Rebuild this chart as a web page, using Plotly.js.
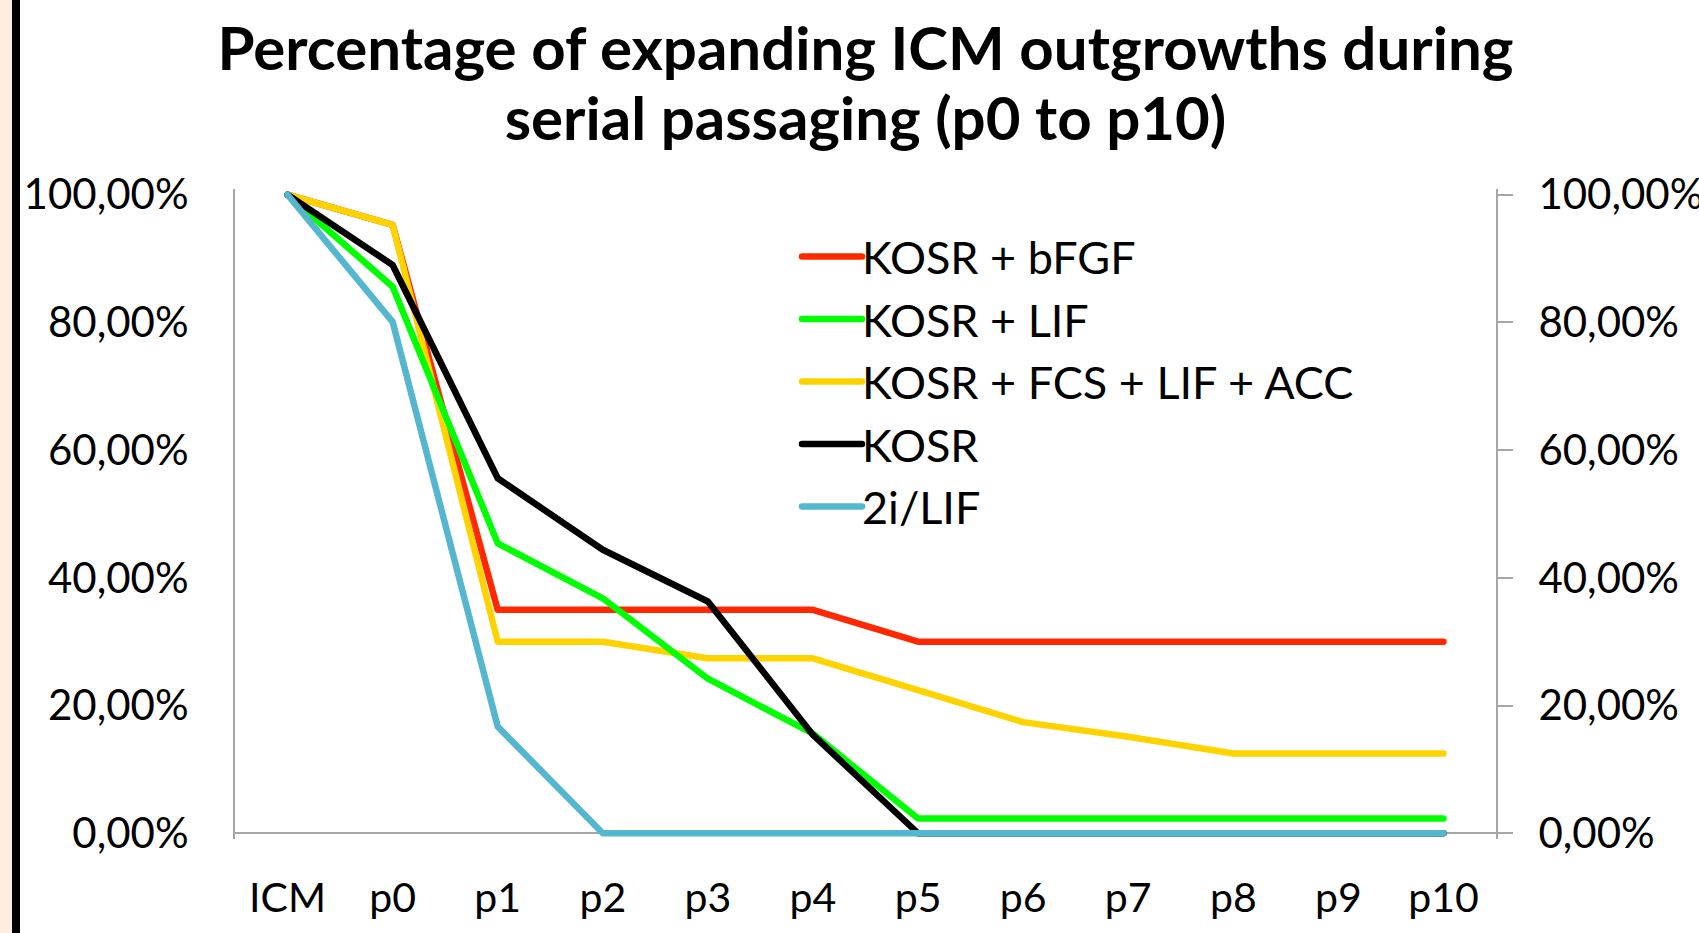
<!DOCTYPE html>
<html>
<head>
<meta charset="utf-8">
<script src="https://cdn.plot.ly/plotly-3.0.1.min.js"></script>
<style>
html, body { margin: 0; padding: 0; background: #ffffff; }
#chart { width: 1699px; height: 933px; }
.scatterlayer .js-line, .legendlines path { stroke-linejoin: round; stroke-linecap: round; }
</style>
</head>
<body>
<div id="chart"></div>
<script>
// ---- data ----
var categories = ['ICM', 'p0', 'p1', 'p2', 'p3', 'p4', 'p5', 'p6', 'p7', 'p8', 'p9', 'p10'];
var kosrBfgf   = [100, 95.3, 35.0, 35.0, 35.0, 35.0, 30.0, 30.0, 30.0, 30.0, 30.0, 30.0];
var kosrLif    = [100, 85.6, 45.4, 36.8, 24.2, 15.6, 2.3, 2.3, 2.3, 2.3, 2.3, 2.3];
var kosrFcsLifAcc = [100, 95.3, 30.0, 30.0, 27.4, 27.4, 22.4, 17.4, 15.1, 12.5, 12.5, 12.5];
var kosr       = [100, 89.0, 55.6, 44.4, 36.3, 15.4, 0, 0, 0, 0, 0, 0];
var twoiLif    = [100, 80.1, 16.7, 0, 0, 0, 0, 0, 0, 0, 0, 0];
var seriesNames = ['KOSR + bFGF', 'KOSR + LIF', 'KOSR + FCS + LIF + ACC', 'KOSR', '2i/LIF'];
var tickVals  = [0, 20, 40, 60, 80, 100];
var tickText  = ['0,00%', '20,00%', '40,00%', '60,00%', '80,00%', '100,00%'];
var titleText = 'Percentage of expanding ICM outgrowths during<br>serial passaging (p0 to p10)';

// ---- styling ----
var colors = ['#FF2800', '#00FF00', '#FFD300', '#000000', '#55B7CF'];
var FONT = 'Lato, "Open Sans", sans-serif';
var W = 1699, H = 933;
var mL = 235, mR = 1699 - 1496;
var yMin = -0.9, yMax = 100.9;
var pxPerUnit = 6.38;
var mT = 195 - (yMax - 100) * pxPerUnit;
var mB = H - (833 - yMin * pxPerUnit);
var plotW = W - mL - mR, plotH = H - mT - mB;

function mk(y, i, rank) {
  return {
    type: 'scatter', mode: 'lines', x: categories, y: y, name: seriesNames[i],
    line: {color: colors[i], width: 6.5},
    legendgroup: 'g' + i, legendrank: rank, hoverinfo: 'skip'
  };
}
// draw order: red, yellow, green, black, blue ; legend order by rank
var traces = [
  mk(kosrBfgf, 0, 1),
  mk(kosrFcsLifAcc, 2, 3),
  mk(kosrLif, 1, 2),
  mk(kosr, 3, 4),
  mk(twoiLif, 4, 5)
];
// invisible trace to drive the right axis
traces.push({type: 'scatter', mode: 'lines', x: categories, y: kosrBfgf, yaxis: 'y2',
  line: {width: 0, color: 'rgba(0,0,0,0)'}, showlegend: false, hoverinfo: 'skip'});

var px2x = function (p) { return (p - mL) / plotW; };
var px2y = function (p) { return (H - mB - p) / plotH; };

var layout = {
  width: W, height: H,
  margin: {l: mL, r: mR, t: mT, b: mB, pad: 0},
  paper_bgcolor: '#ffffff', plot_bgcolor: '#ffffff',
  font: {family: FONT, color: '#000000', size: 41},
  showlegend: true,
  title: {
    text: titleText, x: 0.5, xref: 'paper', xanchor: 'center',
    y: 1 - 70 / H, yref: 'container', yanchor: 'top',
    font: {family: FONT, size: 60, color: '#000000', weight: 'bold'}
  },
  xaxis: {
    type: 'category', range: [-0.5, 11.5], showline: false, showgrid: false,
    zeroline: false, ticks: '', tickfont: {family: FONT, size: 41, color: '#000'},
    ticklabelstandoff: 31, fixedrange: true
  },
  yaxis: {
    range: [yMin, yMax], showgrid: false, zeroline: true, zerolinecolor: '#A6A6A6', zerolinewidth: 2,
    showline: true, linecolor: '#A6A6A6', linewidth: 2, ticks: '',
    tickvals: tickVals, ticktext: tickText, tickfont: {family: FONT, size: 42, color: '#000'},
    ticklabelstandoff: 36, fixedrange: true
  },
  yaxis2: {
    overlaying: 'y', side: 'right', range: [yMin, yMax], showgrid: false, zeroline: false,
    showline: true, linecolor: '#A6A6A6', linewidth: 2, ticks: 'outside', ticklen: 15,
    tickcolor: '#A6A6A6', tickwidth: 2,
    tickvals: tickVals, ticktext: tickText, tickfont: {family: FONT, size: 42, color: '#000'},
    ticklabelstandoff: 17, fixedrange: true
  },
  legend: {
    x: px2x(795), xanchor: 'left', y: px2y(221), yanchor: 'top',
    bgcolor: 'rgba(0,0,0,0)', borderwidth: 0, tracegroupgap: 1, itemwidth: 57,
    font: {family: FONT, size: 45, color: '#000'}, traceorder: 'grouped'
  },
  shapes: [
    {type: 'rect', xref: 'paper', yref: 'paper', x0: px2x(0), x1: px2x(12), y0: px2y(H), y1: px2y(0),
     fillcolor: '#FDECE0', line: {width: 0}, layer: 'below'},
    {type: 'rect', xref: 'paper', yref: 'paper', x0: px2x(12), x1: px2x(20), y0: px2y(H), y1: px2y(0),
     fillcolor: '#000000', line: {width: 0}, layer: 'below'}
  ]
};

Plotly.newPlot('chart', traces, layout, {displayModeBar: false, staticPlot: true}).then(function (gd) {
  // lengthen the legend line samples to match the reference
  gd.querySelectorAll('.legendlines path').forEach(function (p) { p.setAttribute('d', 'M7,0h60'); });
  // tighten the title line spacing to match the reference
  var lines = gd.querySelectorAll('.gtitle tspan.line');
  for (var i = 1; i < lines.length; i++) { lines[i].setAttribute('dy', '1.17em'); }
});
</script>
</body>
</html>
